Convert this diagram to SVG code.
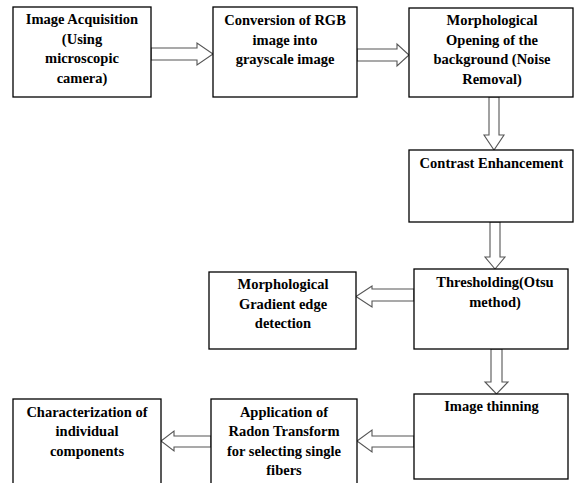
<svg xmlns="http://www.w3.org/2000/svg" width="574" height="483" viewBox="0 0 574 483">
<style>
.box{fill:#fff;stroke:#000;stroke-width:1.3}
.arr{fill:#fff;stroke:#555;stroke-width:1.1;stroke-linejoin:miter}
.t{font-weight:bold;font-size:14.5px;fill:#000;text-anchor:middle}
</style>
<rect width="574" height="483" fill="#fff"/>
<g id="connectors">
<polygon class="arr" points="151,48 197,48 197,43 213,54 197,65 197,60 151,60"/>
<polygon class="arr" points="357,49 397,49 397,44 409,55 397,66 397,61 357,61"/>
<polygon class="arr" points="489,97 499,97 499,135 504,135 494,150 484,135 489,135"/>
<polygon class="arr" points="490,222 500,222 500,257 505,257 495,269 485,257 490,257"/>
<polygon class="arr" points="414,289 372,289 372,286 356,296.5 372,307 372,301 414,301"/>
<polygon class="arr" points="491,349 502,349 502,382 508,382 496.5,394 485,382 491,382"/>
<polygon class="arr" points="414,436 372,436 372,430 357,441 372,452 372,447 414,447"/>
<polygon class="arr" points="211,436 174,436 174,431 161,441 174,451 174,447 211,447"/>
</g>
<g class="t" font-family="Liberation Serif, DejaVu Serif, serif">
<g id="n1">
<rect class="box" x="13" y="7" width="138" height="90"/>
<text x="82" y="24">Image Acquisition</text>
<text x="82" y="43.5">(Using</text>
<text x="82" y="63">microscopic</text>
<text x="82" y="82.5">camera)</text>
</g>
<g id="n2">
<rect class="box" x="213" y="7" width="144" height="90"/>
<text x="285" y="25">Conversion of RGB</text>
<text x="285" y="44.5">image into</text>
<text x="285" y="64">grayscale image</text>
</g>
<g id="n3">
<rect class="box" x="409" y="8" width="164" height="89"/>
<text x="492" y="25">Morphological</text>
<text x="492" y="44.5">Opening of the</text>
<text x="492" y="64">background (Noise</text>
<text x="492" y="83.5">Removal)</text>
</g>
<g id="n4">
<rect class="box" x="409" y="150" width="164" height="72"/>
<text x="491.5" y="168">Contrast Enhancement</text>
</g>
<g id="n5">
<rect class="box" x="414" y="269" width="154" height="80"/>
<text x="495" y="287">Thresholding(Otsu</text>
<text x="495" y="306.5">method)</text>
</g>
<g id="n6">
<rect class="box" x="209" y="272" width="147" height="77"/>
<text x="283" y="289">Morphological</text>
<text x="283" y="308.5">Gradient edge</text>
<text x="283" y="328">detection</text>
</g>
<g id="n7">
<rect class="box" x="414" y="394" width="154" height="85"/>
<text x="491.5" y="411">Image thinning</text>
</g>
<g id="n8">
<rect class="box" x="211" y="399" width="146" height="95"/>
<text x="284" y="416.5">Application of</text>
<text x="284" y="436">Radon Transform</text>
<text x="284" y="455.5">for selecting single</text>
<text x="284" y="475">fibers</text>
</g>
<g id="n9">
<rect class="box" x="13" y="399" width="148" height="95"/>
<text x="87" y="416.5">Characterization of</text>
<text x="87" y="436">individual</text>
<text x="87" y="455.5">components</text>
</g>
</g>
</svg>
